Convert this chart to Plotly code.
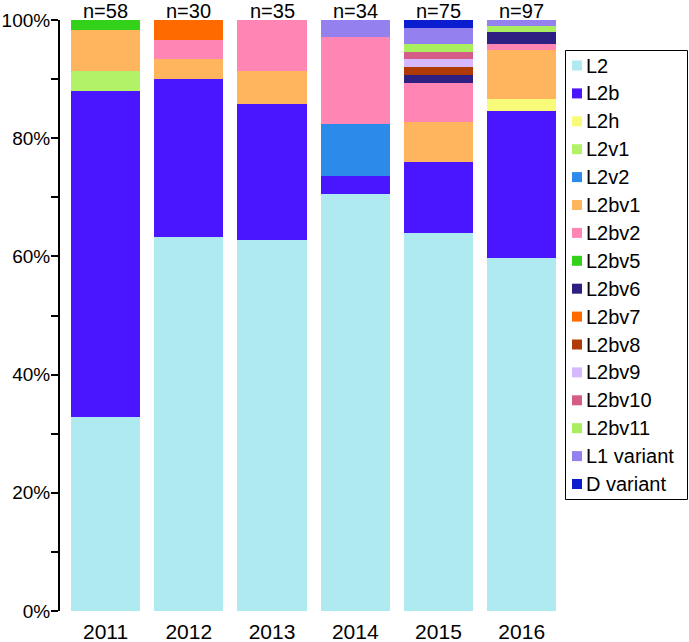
import plotly.graph_objects as go

years = ["2011", "2012", "2013", "2014", "2015", "2016"]
n_labels = ["n=58", "n=30", "n=35", "n=34", "n=75", "n=97"]
y_tick_vals = [0, 20, 40, 60, 80, 100]
y_tick_text = ["0%", "20%", "40%", "60%", "80%", "100%"]

# counts per lineage per year (stacked, normalised to percent)
L2 = [19, 19, 22, 24, 48, 58]
L2b = [32, 8, 8, 1, 9, 24]
L2h = [0, 0, 0, 0, 0, 2]
L2v1 = [2, 0, 0, 0, 0, 0]
L2v2 = [0, 0, 0, 3, 0, 0]
L2bv1 = [4, 1, 2, 0, 5, 8]
L2bv2 = [0, 1, 3, 5, 5, 1]
L2bv5 = [1, 0, 0, 0, 0, 0]
L2bv6 = [0, 0, 0, 0, 1, 2]
L2bv7 = [0, 1, 0, 0, 0, 0]
L2bv8 = [0, 0, 0, 0, 1, 0]
L2bv9 = [0, 0, 0, 0, 1, 0]
L2bv10 = [0, 0, 0, 0, 1, 0]
L2bv11 = [0, 0, 0, 0, 1, 1]
L1_variant = [0, 0, 0, 1, 2, 1]
D_variant = [0, 0, 0, 0, 1, 0]

series = [
    ("L2", L2, "#AEEAF0"),
    ("L2b", L2b, "#4A16FF"),
    ("L2h", L2h, "#F8FB7A"),
    ("L2v1", L2v1, "#B2F266"),
    ("L2v2", L2v2, "#2C8AEB"),
    ("L2bv1", L2bv1, "#FFB55E"),
    ("L2bv2", L2bv2, "#FF85B5"),
    ("L2bv5", L2bv5, "#33D11A"),
    ("L2bv6", L2bv6, "#2E2082"),
    ("L2bv7", L2bv7, "#FF6A00"),
    ("L2bv8", L2bv8, "#B03A06"),
    ("L2bv9", L2bv9, "#D6B8FF"),
    ("L2bv10", L2bv10, "#D45C86"),
    ("L2bv11", L2bv11, "#A8EE5E"),
    ("L1 variant", L1_variant, "#9580F0"),
    ("D variant", D_variant, "#0A1ED0"),
]

FONT = "Liberation Sans, Arial, sans-serif"
W, H = 689, 642
ML, MR, MT, MB = 60, 129, 20, 31
PW, PH = W - ML - MR, H - MT - MB


def px_x(px):
    return (px - ML) / PW


def px_y(py):
    return (H - MB - py) / PH


fig = go.Figure()
for name, vals, color in series:
    fig.add_trace(go.Bar(
        x=years, y=vals, name=name, legendgroup=name, showlegend=False,
        marker=dict(color=color, line=dict(width=0)),
    ))

for i, lab in enumerate(n_labels):
    fig.add_annotation(x=i, xref="x", y=100, yref="y", text=lab, showarrow=False,
                       yanchor="bottom", yshift=-4,
                       font=dict(family=FONT, size=20, color="black"))

# legend drawn as a boxed key to the right of the bars
shapes = [dict(type="rect", xref="paper", yref="paper",
               x0=px_x(565.5), x1=px_x(687.5), y0=px_y(499.5), y1=px_y(50.5),
               line=dict(color="black", width=1), fillcolor="rgba(0,0,0,0)", layer="above")]
for i, (name, vals, color) in enumerate(series):
    cy = 65.5 + 27.9 * i
    shapes.append(dict(type="rect", xref="paper", yref="paper",
                       x0=px_x(572), x1=px_x(582), y0=px_y(cy + 5), y1=px_y(cy - 5),
                       line=dict(width=0), fillcolor=color, layer="above"))
    fig.add_annotation(x=px_x(584), xref="paper", y=px_y(cy), yref="paper",
                       text=name, showarrow=False, xanchor="left", yanchor="middle",
                       font=dict(family=FONT, size=20, color="black"))

fig.update_layout(
    barmode="stack",
    barnorm="percent",
    bargap=0.17,
    width=W, height=H,
    margin=dict(l=ML, r=MR, t=MT, b=MB),
    paper_bgcolor="white", plot_bgcolor="white",
    font=dict(family=FONT, size=20, color="black"),
    showlegend=False,
    shapes=shapes,
)
fig.update_xaxes(
    type="category", range=[-0.547, 5.46], automargin=False,
    showline=False, showgrid=False, ticks="",
    ticklabelstandoff=6,
    tickfont=dict(family=FONT, size=21, color="black"),
)
fig.update_yaxes(
    range=[0, 100], tickmode="array", tickvals=y_tick_vals, ticktext=y_tick_text,
    automargin=False,
    showgrid=False, zeroline=False,
    showline=True, linecolor="black", linewidth=2,
    ticks="outside", ticklen=7, tickwidth=2, tickcolor="black",
    minor=dict(ticks="outside", dtick=10, ticklen=7, tickwidth=2, tickcolor="black"),
    ticklabelstandoff=-3,
    tickfont=dict(family=FONT, size=19, color="black"),
)

fig.write_html("out.html", config={"displayModeBar": False},
               post_script="document.body.style.margin='0';document.body.style.padding='0';")
